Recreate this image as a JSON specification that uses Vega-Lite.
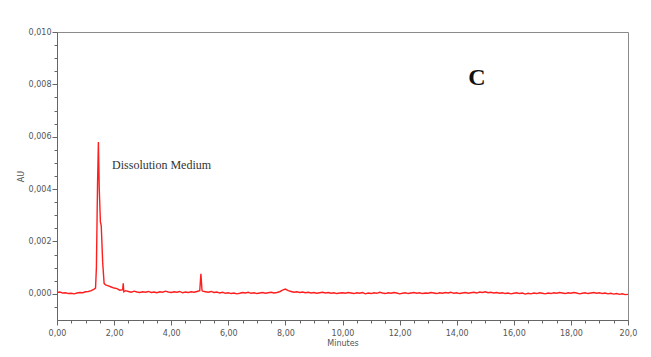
{
  "$schema": "https://vega.github.io/schema/vega-lite/v6.json",
  "width": 571,
  "height": 288,
  "autosize": {"type": "none"},
  "padding": {"left": 57, "top": 32, "right": 23, "bottom": 37},
  "background": "white",
  "config": {
    "view": {"stroke": "#8a8a8a", "strokeWidth": 1},
    "axis": {"grid": false, "domainColor": "#666", "tickColor": "#666", "labelColor": "#555", "titleColor": "#555", "labelFont": "DejaVu Sans", "titleFont": "DejaVu Sans", "labelFontSize": 8, "titleFontSize": 8, "titleFontWeight": "normal", "labelOverlap": false, "labelFlush": false}
  },
  "data": {"values": [
    {"t":0.0,"v":0.00005},{"t":0.1,"v":0.00007},{"t":0.2,"v":0.00003},{"t":0.3,"v":0.00004},{"t":0.4,"v":0.00001},{"t":0.5,"v":0.00002},{"t":0.6,"v":0.0},{"t":0.7,"v":0.00003},{"t":0.8,"v":0.00005},{"t":0.9,"v":0.00004},
    {"t":1.0,"v":0.00008},{"t":1.1,"v":0.00009},{"t":1.2,"v":0.00012},{"t":1.3,"v":0.00018},{"t":1.35,"v":0.00022},{"t":1.38,"v":0.001},{"t":1.42,"v":0.0042},{"t":1.45,"v":0.0058},{"t":1.48,"v":0.004},{"t":1.52,"v":0.00275},
    {"t":1.55,"v":0.0026},{"t":1.6,"v":0.0012},{"t":1.65,"v":0.0004},{"t":1.7,"v":0.00034},{"t":1.8,"v":0.0003},{"t":1.9,"v":0.00026},{"t":2.0,"v":0.00022},{"t":2.1,"v":0.0002},{"t":2.2,"v":0.00014},{"t":2.3,"v":0.00016},
    {"t":2.32,"v":0.0004},{"t":2.34,"v":0.00008},{"t":2.4,"v":0.00012},{"t":2.5,"v":0.00009},{"t":2.6,"v":0.00006},{"t":2.7,"v":0.0001},{"t":2.8,"v":0.00007},{"t":2.9,"v":0.00005},{"t":3.0,"v":0.00008},{"t":3.1,"v":0.00006},
    {"t":3.2,"v":0.00009},{"t":3.3,"v":0.00005},{"t":3.4,"v":0.00007},{"t":3.5,"v":0.00004},{"t":3.6,"v":0.00008},{"t":3.7,"v":0.00006},{"t":3.8,"v":0.0001},{"t":3.9,"v":0.00007},{"t":4.0,"v":0.00005},{"t":4.1,"v":0.00008},
    {"t":4.2,"v":0.00006},{"t":4.3,"v":0.00009},{"t":4.4,"v":0.00004},{"t":4.5,"v":0.00007},{"t":4.6,"v":0.00005},{"t":4.7,"v":0.00008},{"t":4.8,"v":0.00006},{"t":4.9,"v":0.00009},{"t":5.0,"v":0.00012},{"t":5.04,"v":0.00076},
    {"t":5.08,"v":0.00012},{"t":5.1,"v":0.0001},{"t":5.2,"v":0.00008},{"t":5.3,"v":0.00006},{"t":5.4,"v":0.00009},{"t":5.5,"v":0.00005},{"t":5.6,"v":0.00007},{"t":5.7,"v":0.00003},{"t":5.8,"v":0.00006},{"t":5.9,"v":0.00002},
    {"t":6.0,"v":0.00004},{"t":6.1,"v":0.00001},{"t":6.2,"v":0.00003},{"t":6.3,"v":0.0},{"t":6.4,"v":0.00002},{"t":6.5,"v":0.00005},{"t":6.6,"v":0.00003},{"t":6.7,"v":0.00006},{"t":6.8,"v":0.00002},{"t":6.9,"v":0.00004},
    {"t":7.0,"v":0.00001},{"t":7.1,"v":0.00003},{"t":7.2,"v":0.00005},{"t":7.3,"v":0.00002},{"t":7.4,"v":0.00004},{"t":7.5,"v":0.00006},{"t":7.6,"v":0.00003},{"t":7.7,"v":0.00005},{"t":7.8,"v":0.00008},{"t":7.9,"v":0.00014},
    {"t":8.0,"v":0.00018},{"t":8.1,"v":0.00012},{"t":8.2,"v":0.00009},{"t":8.3,"v":0.00006},{"t":8.4,"v":0.00008},{"t":8.5,"v":0.00005},{"t":8.6,"v":0.00007},{"t":8.7,"v":0.00004},{"t":8.8,"v":0.00006},{"t":8.9,"v":0.00003},
    {"t":9.0,"v":0.00005},{"t":9.1,"v":0.00002},{"t":9.2,"v":0.00004},{"t":9.3,"v":0.00006},{"t":9.4,"v":0.00003},{"t":9.5,"v":0.00005},{"t":9.6,"v":0.00002},{"t":9.7,"v":0.00004},{"t":9.8,"v":0.00001},{"t":9.9,"v":0.00003},
    {"t":10.0,"v":0.00004},{"t":10.1,"v":0.00002},{"t":10.2,"v":0.00005},{"t":10.3,"v":0.00003},{"t":10.4,"v":0.00001},{"t":10.5,"v":0.00004},{"t":10.6,"v":0.00002},{"t":10.7,"v":0.00005},{"t":10.8,"v":0.0},{"t":10.9,"v":0.00003},
    {"t":11.0,"v":0.00001},{"t":11.1,"v":0.00004},{"t":11.2,"v":0.00002},{"t":11.3,"v":0.00006},{"t":11.4,"v":0.00003},{"t":11.5,"v":0.00001},{"t":11.6,"v":0.00004},{"t":11.7,"v":0.00002},{"t":11.8,"v":0.00005},{"t":11.9,"v":0.00003},
    {"t":12.0,"v":0.0},{"t":12.1,"v":0.00002},{"t":12.2,"v":0.00004},{"t":12.3,"v":0.00001},{"t":12.4,"v":0.00003},{"t":12.5,"v":0.00005},{"t":12.6,"v":0.00002},{"t":12.7,"v":0.00004},{"t":12.8,"v":0.00001},{"t":12.9,"v":0.00003},
    {"t":13.0,"v":0.00002},{"t":13.1,"v":0.00005},{"t":13.2,"v":0.00003},{"t":13.3,"v":0.00001},{"t":13.4,"v":0.00004},{"t":13.5,"v":0.00002},{"t":13.6,"v":0.00005},{"t":13.7,"v":0.00003},{"t":13.8,"v":0.00006},{"t":13.9,"v":0.00002},
    {"t":14.0,"v":0.00004},{"t":14.1,"v":0.00001},{"t":14.2,"v":0.00003},{"t":14.3,"v":0.00005},{"t":14.4,"v":0.00002},{"t":14.5,"v":0.00004},{"t":14.6,"v":0.00006},{"t":14.7,"v":0.00003},{"t":14.8,"v":0.00007},{"t":14.9,"v":0.00005},
    {"t":15.0,"v":0.00008},{"t":15.1,"v":0.00004},{"t":15.2,"v":0.00006},{"t":15.3,"v":0.00003},{"t":15.4,"v":0.00005},{"t":15.5,"v":0.00002},{"t":15.6,"v":0.00004},{"t":15.7,"v":0.00001},{"t":15.8,"v":0.00003},{"t":15.9,"v":0.0},
    {"t":16.0,"v":0.00002},{"t":16.1,"v":0.00004},{"t":16.2,"v":0.00001},{"t":16.3,"v":0.00003},{"t":16.4,"v":-0.00001},{"t":16.5,"v":0.00002},{"t":16.6,"v":0.0},{"t":16.7,"v":0.00003},{"t":16.8,"v":0.00001},{"t":16.9,"v":0.00004},
    {"t":17.0,"v":0.00002},{"t":17.1,"v":0.0},{"t":17.2,"v":0.00003},{"t":17.3,"v":0.00001},{"t":17.4,"v":0.00004},{"t":17.5,"v":0.00002},{"t":17.6,"v":0.00005},{"t":17.7,"v":0.00003},{"t":17.8,"v":0.00001},{"t":17.9,"v":0.00004},
    {"t":18.0,"v":0.00002},{"t":18.1,"v":0.00005},{"t":18.2,"v":0.00003},{"t":18.3,"v":0.0},{"t":18.4,"v":0.00002},{"t":18.5,"v":0.00004},{"t":18.6,"v":0.00001},{"t":18.7,"v":0.00003},{"t":18.8,"v":0.00005},{"t":18.9,"v":0.00002},
    {"t":19.0,"v":0.00004},{"t":19.1,"v":0.00001},{"t":19.2,"v":0.00003},{"t":19.3,"v":0.0},{"t":19.4,"v":0.00002},{"t":19.5,"v":-0.00001},{"t":19.6,"v":0.00001},{"t":19.7,"v":-0.00002},{"t":19.8,"v":0.0},{"t":19.9,"v":-0.00003},
    {"t":20.0,"v":-0.00002}
  ]},
  "layer": [
    {
      "mark": {"type": "line", "color": "#ff1e1e", "strokeWidth": 1.4, "clip": true},
      "encoding": {
        "x": {"field": "t", "type": "quantitative", "scale": {"domain": [0, 20], "nice": false, "zero": false},
          "axis": {"title": "Minutes", "tickCount": 200, "values": [0,0.5,1,1.5,2,2.5,3,3.5,4,4.5,5,5.5,6,6.5,7,7.5,8,8.5,9,9.5,10,10.5,11,11.5,12,12.5,13,13.5,14,14.5,15,15.5,16,16.5,17,17.5,18,18.5,19,19.5,20],
            "labelExpr": "datum.value % 2 === 0 ? (datum.value === 20 ? '20,0' : replace(format(datum.value, '.2f'), '.', ',')) : ''",
            "tickSize": {"condition": {"test": "datum.value % 2 === 0", "value": 5}, "value": 3},
            "labelPadding": 4, "titlePadding": 2}},
        "y": {"field": "v", "type": "quantitative", "scale": {"domain": [-0.001, 0.010], "nice": false, "zero": false},
          "axis": {"title": "AU", "tickCount": 200, "values": [-0.0005,0,0.0005,0.001,0.0015,0.002,0.0025,0.003,0.0035,0.004,0.0045,0.005,0.0055,0.006,0.0065,0.007,0.0075,0.008,0.0085,0.009,0.0095,0.01],
            "labelExpr": "(round(datum.value*10000) % 20 === 0 && datum.value > -0.0001) ? replace(format(datum.value, '.3f'), '.', ',') : ''",
            "tickSize": {"condition": {"test": "round(datum.value*10000) % 20 === 0", "value": 5}, "value": 3},
            "labelPadding": 1, "titlePadding": 3}}
      }
    },
    {
      "data": {"values": [{"t": 1.93, "v": 0.00491, "label": "Dissolution Medium"}]},
      "mark": {"type": "text", "align": "left", "baseline": "middle", "font": "Liberation Serif", "fontSize": 12, "color": "#333"},
      "encoding": {"x": {"field": "t", "type": "quantitative"}, "y": {"field": "v", "type": "quantitative"}, "text": {"field": "label"}}
    },
    {
      "data": {"values": [{"t": 14.71, "v": 0.00823, "label": "C"}]},
      "mark": {"type": "text", "align": "center", "baseline": "middle", "font": "Liberation Serif", "fontSize": 24, "fontWeight": "bold", "color": "#111"},
      "encoding": {"x": {"field": "t", "type": "quantitative"}, "y": {"field": "v", "type": "quantitative"}, "text": {"field": "label"}}
    }
  ]
}
